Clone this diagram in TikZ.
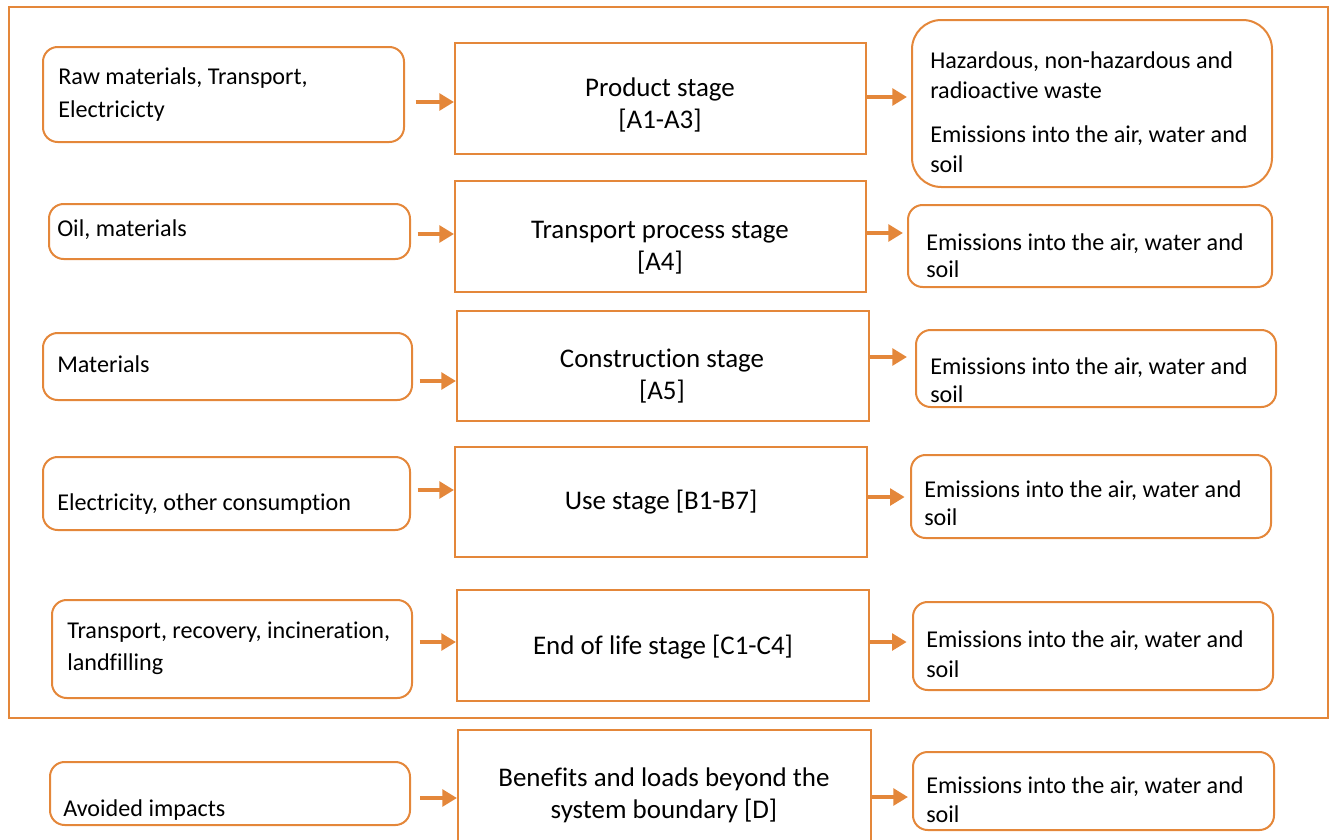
\documentclass[tikz,border=0pt]{standalone}
\usepackage{fontspec}
\setmainfont[Ligatures=NoCommon]{Carlito}
\usetikzlibrary{fit,arrows.meta}
\definecolor{org}{RGB}{228,135,58}
\begin{document}
\begin{tikzpicture}[x=0.75pt,y=-0.75pt,
  inbox/.style={draw=org,line width=1.5pt,rounded corners=11pt,inner sep=0pt},
  outbox/.style={draw=org,line width=1.5pt,rounded corners=11pt,inner sep=0pt},
  stagebox/.style={draw=org,line width=1.5pt,inner sep=0pt},
  frame/.style={draw=org,line width=1.5pt},
  small/.style={font=\fontsize{18.1}{21}\selectfont,inner sep=0pt,anchor=base west},
  big/.style={font=\fontsize{20.2}{24}\selectfont,inner sep=0pt,anchor=base},
  arr/.style={draw=org,line width=3.6pt,-{Triangle[length=11pt,width=12.5pt]}},
]
\useasboundingbox (0,0) rectangle (1335,839);
\node[frame,fit={(9,7) (1328,718)},inner sep=0pt] (frm) {};

% Row 1
\node[inbox,fit={(43,47) (404,142)}] (l1) {};
\node[stagebox,fit={(455,43) (866,154)}] (m1) {};
\node[outbox,rounded corners=22pt,fit={(912,20) (1272,187)}] (r1) {};
\node[small] (l1a) at (58,84) {Raw materials, Transport,};
\node[small] (l1b) at (58,117) {Electricicty};
\node[big] (m1a) at (660,96) {Product stage};
\node[big] (m1b) at (660,128) {[A1-A3]};
\node[small] (r1a) at (930,68) {Hazardous, non-hazardous and};
\node[small] (r1b) at (930,98) {radioactive waste};
\node[small] (r1c) at (930,142) {Emissions into the air, water and};
\node[small] (r1d) at (930,172) {soil};
\draw[arr,shorten <=8pt] (l1.east |- 0,102) -- (m1.west |- 0,102);
\draw[arr,shorten >=3pt] (m1.east |- 0,97) -- (r1.west |- 0,97);

% Row 2
\node[inbox,fit={(49,204) (410,259)}] (l2) {};
\node[stagebox,fit={(455,181) (866,292)}] (m2) {};
\node[outbox,fit={(908,205) (1272,287)}] (r2) {};
\node[small] (l2a) at (57,236) {Oil, materials};
\node[big] (m2a) at (660,238) {Transport process stage};
\node[big] (m2b) at (660,270) {[A4]};
\node[small] (r2a) at (926,250) {Emissions into the air, water and};
\node[small] (r2b) at (926,277) {soil};
\draw[arr,shorten <=5pt] (l2.east |- 0,234) -- (m2.west |- 0,234);
\draw[arr,shorten >=3pt] (m2.east |- 0,233) -- (r2.west |- 0,233);

% Row 3
\node[inbox,fit={(43,333) (412,400)}] (l3) {};
\node[stagebox,fit={(457,311) (869,421)}] (m3) {};
\node[outbox,fit={(916,330) (1276,407)}] (r3) {};
\node[small] (l3a) at (57,372) {Materials};
\node[big] (m3a) at (662,367) {Construction stage};
\node[big] (m3b) at (662,399) {[A5]};
\node[small] (r3a) at (930,374) {Emissions into the air, water and};
\node[small] (r3b) at (930,402) {soil};
\draw[arr,shorten <=5pt] (l3.east |- 0,381) -- (m3.west |- 0,381);
\draw[arr,shorten >=6pt] (m3.east |- 0,357) -- (r3.west |- 0,357);

% Row 4
\node[inbox,fit={(43,457) (410,530)}] (l4) {};
\node[stagebox,fit={(455,447) (867,557)}] (m4) {};
\node[outbox,fit={(911,455) (1271,538)}] (r4) {};
\node[small] (l4a) at (57,510) {Electricity, other consumption};
\node[big] (m4a) at (661,509) {Use stage [B1-B7]};
\node[small] (r4a) at (924,497) {Emissions into the air, water and};
\node[small] (r4b) at (924,525) {soil};
\draw[arr,shorten <=5pt] (l4.east |- 0,490) -- (m4.west |- 0,490);
\draw[arr,shorten >=4pt] (m4.east |- 0,497) -- (r4.west |- 0,497);

% Row 5
\node[inbox,fit={(52,600) (412,698)}] (l5) {};
\node[stagebox,fit={(457,590) (869,701)}] (m5) {};
\node[outbox,fit={(913,602) (1273,690)}] (r5) {};
\node[small] (l5a) at (67,638) {Transport, recovery, incineration,};
\node[small] (l5b) at (67,670) {landfilling};
\node[big] (m5a) at (663,654) {End of life stage [C1-C4]};
\node[small] (r5a) at (926,647) {Emissions into the air, water and};
\node[small] (r5b) at (926,677) {soil};
\draw[arr,shorten <=5pt] (l5.east |- 0,642) -- (m5.west |- 0,642);
\draw[arr,shorten >=4pt] (m5.east |- 0,642) -- (r5.west |- 0,642);

% Row 6 (outside the boundary)
\node[inbox,fit={(50,762) (410,825)}] (l6) {};
\node[stagebox,fit={(458,730) (871,850)}] (m6) {};
\node[outbox,fit={(913,752) (1274,830)}] (r6) {};
\node[small] (l6a) at (63,816) {Avoided impacts};
\node[big] (m6a) at (664,786) {Benefits and loads beyond the};
\node[big] (m6b) at (664,818) {system boundary [D]};
\node[small] (r6a) at (926,793) {Emissions into the air, water and};
\node[small] (r6b) at (926,822) {soil};
\draw[arr,shorten <=7pt] (l6.east |- 0,798) -- (m6.west |- 0,798);
\draw[arr,shorten >=3pt] (m6.east |- 0,797) -- (r6.west |- 0,797);
\end{tikzpicture}
\end{document}
